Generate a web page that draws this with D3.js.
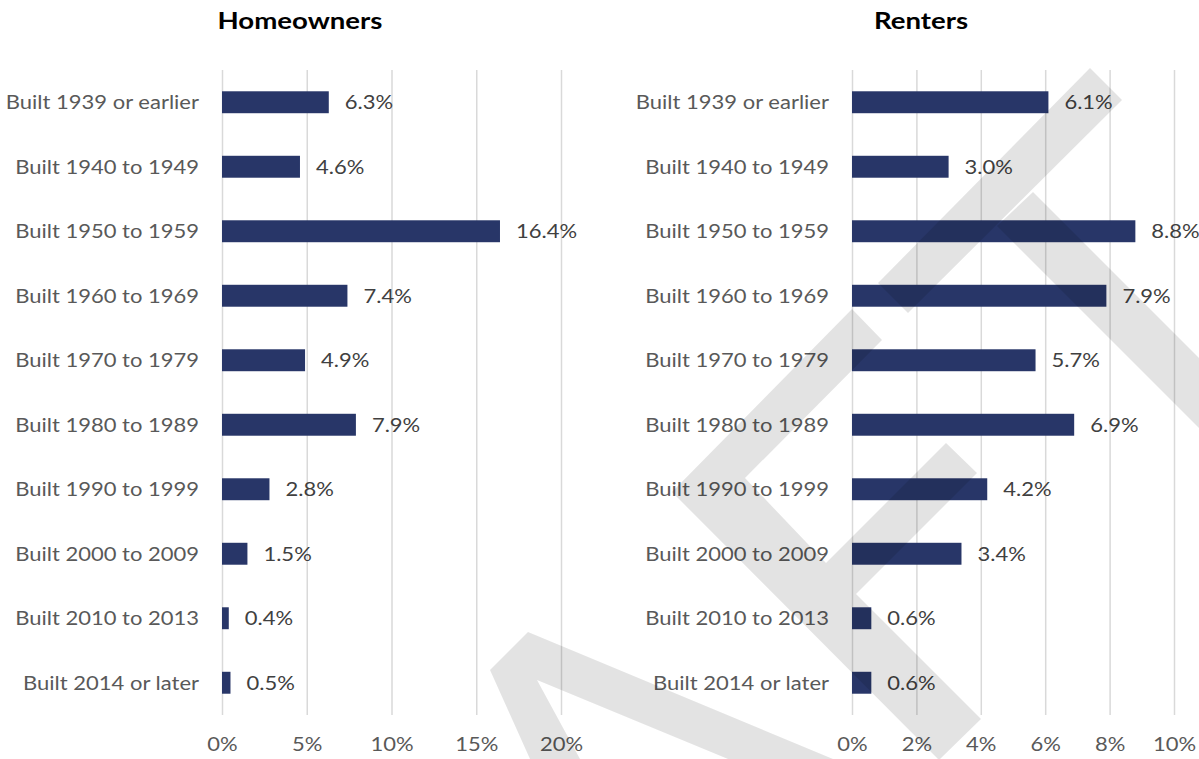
<!DOCTYPE html>
<html>
<head>
<meta charset="utf-8">
<script src="https://cdn.jsdelivr.net/npm/d3@7"></script>
<style>
  body { margin: 0; background: #fff; }
  text { font-family: Lato, "Open Sans", sans-serif; }
</style>
</head>
<body>
<svg id="chart"></svg>
<script>
var width = 1199,
    height = 759;

var categories = [
    'Built 1939 or earlier', 'Built 1940 to 1949', 'Built 1950 to 1959',
    'Built 1960 to 1969', 'Built 1970 to 1979', 'Built 1980 to 1989',
    'Built 1990 to 1999', 'Built 2000 to 2009', 'Built 2010 to 2013',
    'Built 2014 or later'
];
var ownerValues = [6.3, 4.6, 16.4, 7.4, 4.9, 7.9, 2.8, 1.5, 0.4, 0.5];
var renterValues = [6.1, 3.0, 8.8, 7.9, 5.7, 6.9, 4.2, 3.4, 0.6, 0.6];
var ownerTicks = [0, 5, 10, 15, 20];
var renterTicks = [0, 2, 4, 6, 8, 10];

// grey watermark strokes lying over the picture
var watermark = [
    [[1090, 68], [1122, 100], [908, 313], [878, 283]],
    [[1033, 192], [1199, 358], [1199, 428], [997, 226]],
    [[852, 309], [882, 340], [745, 478], [826, 563], [946, 443], [977, 473],
     [856, 594], [981, 719], [939, 760], [672, 492]],
    [[528, 632], [833, 759], [728, 759], [537, 680], [580, 759], [530, 759], [490, 670]]
];

var barColor = '#283668',
    gridColor = '#d9d9d9',
    labelColor = '#595959',
    valueColor = '#404040',
    stretch = 1.1; // the original text is a little wider than Lato

var svg = d3.select('svg#chart')
    .attr('width', width)
    .attr('height', height);

drawPanel({
    title: 'Homeowners', titleX: 300,
    values: ownerValues, ticks: ownerTicks, max: 20,
    x0: 222, x1: 561
});
drawPanel({
    title: 'Renters', titleX: 921,
    values: renterValues, ticks: renterTicks, max: 10,
    x0: 852, x1: 1174
});

svg.append('g')
    .selectAll('polygon')
    .data(watermark)
    .enter().append('polygon')
    .attr('points', function (d) { return d.join(' '); })
    .attr('fill', '#000')
    .attr('fill-opacity', 0.11);

function place(px, py, sx) {
    return 'translate(' + px + ',' + py + ') scale(' + sx + ',1)';
}

function drawPanel(p) {
    var g = svg.append('g');
    var x = d3.scaleLinear().domain([0, p.max]).range([p.x0, p.x1]);
    var y = d3.scaleBand()
        .domain(categories)
        .range([70, 715])
        .paddingInner(0.66)
        .paddingOuter(0.33);

    g.append('text')
        .attr('transform', place(p.titleX, 29, 1.2))
        .attr('text-anchor', 'middle')
        .attr('font-size', 23)
        .attr('font-weight', 'bold')
        .attr('fill', '#000')
        .text(p.title);

    var axis = d3.axisBottom(x)
        .tickValues(p.ticks)
        .tickSize(-(715 - 70))
        .tickPadding(22)
        .tickFormat(function (d) { return d + '%'; });

    var ax = g.append('g')
        .attr('transform', 'translate(0,715)')
        .call(axis);
    ax.select('.domain').remove();
    ax.selectAll('.tick line')
        .attr('stroke', gridColor)
        .attr('stroke-width', 1.5);
    ax.selectAll('.tick text')
        .attr('font-size', 20)
        .attr('font-family', 'Lato, sans-serif')
        .attr('fill', labelColor)
        .attr('transform', 'scale(' + stretch + ',1)');

    g.selectAll('rect.bar')
        .data(p.values)
        .enter().append('rect')
        .attr('class', 'bar')
        .attr('x', x(0))
        .attr('y', function (d, i) { return y(categories[i]); })
        .attr('width', function (d) { return x(d) - x(0); })
        .attr('height', y.bandwidth())
        .attr('fill', barColor);

    g.selectAll('text.value')
        .data(p.values)
        .enter().append('text')
        .attr('class', 'value')
        .attr('transform', function (d, i) {
            return place(x(d) + 16, y(categories[i]) + y.bandwidth() / 2, stretch);
        })
        .attr('dy', '0.35em')
        .attr('font-size', 20)
        .attr('fill', valueColor)
        .text(function (d) { return d.toFixed(1) + '%'; });

    g.selectAll('text.cat')
        .data(categories)
        .enter().append('text')
        .attr('class', 'cat')
        .attr('transform', function (d) {
            return place(x(0) - 23, y(d) + y.bandwidth() / 2, stretch);
        })
        .attr('dy', '0.35em')
        .attr('text-anchor', 'end')
        .attr('font-size', 20)
        .attr('fill', labelColor)
        .text(function (d) { return d; });
}
</script>
</body>
</html>
